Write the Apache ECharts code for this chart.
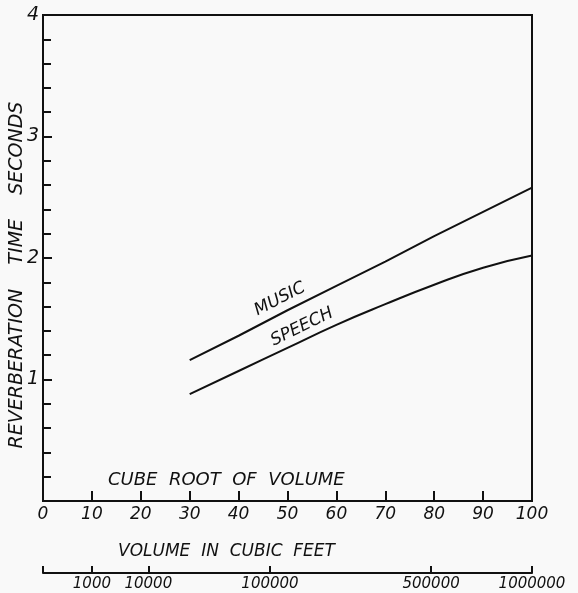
<!DOCTYPE html>
<html>
<head>
<meta charset="utf-8">
<script src="https://cdn.jsdelivr.net/npm/echarts@6/dist/echarts.min.js"></script>
<style>
  html, body { margin: 0; padding: 0; background: #f9f9f9; }
  #chart { width: 578px; height: 593px; }
</style>
</head>
<body>
<div id="chart"></div>
<script>
// cube root of volume (x) and reverberation time in seconds (y)
const cubeRoot = [30, 40, 50, 60, 70, 80, 90, 100];
const music = [1.16, 1.36, 1.57, 1.77, 1.97, 2.18, 2.38, 2.58];
const speech = [0.88, 1.07, 1.26, 1.45, 1.62, 1.78, 1.92, 2.02];
// volume scale shown under the chart
const volumeTicks = [1000, 10000, 100000, 500000, 1000000];

const ink = '#111';
const font = 'DejaVu Sans';

const chart = echarts.init(document.getElementById('chart'));

const volumePos = volumeTicks.map((v) => Math.cbrt(v));
const volumeLabel = (pos) => {
  let best = 0;
  volumePos.forEach((p, i) => {
    if (Math.abs(p - pos) < Math.abs(volumePos[best] - pos)) best = i;
  });
  return String(volumeTicks[best]);
};

const option = {
  backgroundColor: '#f9f9f9',
  animation: false,
  grid: {
    left: 43,
    right: 46,
    top: 15,
    bottom: 92,
    outerBoundsMode: 'none',
    containLabel: false,
    show: true,
    borderColor: ink,
    borderWidth: 2,
    backgroundColor: 'transparent',
  },
  title: [
    {
      text: 'CUBE  ROOT  OF  VOLUME',
      left: 108,
      top: 471,
      padding: 0,
      textStyle: { fontFamily: font, fontStyle: 'italic', fontWeight: 'normal', fontSize: 18, color: ink },
    },
    {
      text: 'VOLUME  IN  CUBIC  FEET',
      left: 118,
      top: 543,
      padding: 0,
      textStyle: { fontFamily: font, fontStyle: 'italic', fontWeight: 'normal', fontSize: 17, color: ink },
    },
  ],
  xAxis: [
    {
      type: 'value',
      min: 0,
      max: 100,
      interval: 10,
      axisLine: { lineStyle: { color: ink, width: 2 } },
      axisTick: { inside: true, length: 10, lineStyle: { color: ink, width: 2 } },
      axisLabel: {
        margin: 5,
        fontFamily: font,
        fontStyle: 'italic',
        fontSize: 17,
        color: ink,
      },
      splitLine: { show: false },
    },
    {
      type: 'value',
      position: 'bottom',
      offset: 72,
      min: 0,
      max: 100,
      axisLine: { lineStyle: { color: ink, width: 2 } },
      axisTick: {
        inside: true,
        length: 7,
        customValues: [0].concat(volumePos),
        lineStyle: { color: ink, width: 2 },
      },
      axisLabel: {
        customValues: volumePos,
        margin: 4,
        fontFamily: font,
        fontStyle: 'italic',
        fontSize: 15,
        color: ink,
        formatter: (v) => volumeLabel(v),
      },
      splitLine: { show: false },
    },
  ],
  yAxis: {
    type: 'value',
    min: 0,
    max: 4,
    interval: 1,
    name: 'REVERBERATION    TIME    SECONDS',
    nameLocation: 'middle',
    nameGap: 16,
    nameMoveOverlap: false,
    nameTextStyle: {
      fontFamily: font,
      fontStyle: 'italic',
      fontSize: 19,
      color: ink,
      padding: [0, 34, 0, 0],
    },
    axisLine: { show: true, lineStyle: { color: ink, width: 2 } },
    axisTick: { show: true, inside: true, length: 9, lineStyle: { color: ink, width: 2 } },
    minorTick: { show: true, splitNumber: 5, length: 8, lineStyle: { color: ink, width: 2 } },
    axisLabel: {
      showMinLabel: false,
      margin: 4,
      fontFamily: font,
      fontStyle: 'italic',
      fontSize: 19,
      color: ink,
    },
    splitLine: { show: false },
  },
  series: [
    {
      name: 'MUSIC',
      type: 'line',
      data: cubeRoot.map((x, i) => [x, music[i]]),
      symbol: 'none',
      lineStyle: { color: ink, width: 2 },
    },
    {
      name: 'SPEECH',
      type: 'line',
      data: cubeRoot.map((x, i) => [x, speech[i]]),
      symbol: 'none',
      smooth: true,
      lineStyle: { color: ink, width: 2 },
    },
  ],
  graphic: [
    {
      type: 'text',
      x: 280,
      y: 299,
      rotation: (27 * Math.PI) / 180,
      style: {
        text: 'MUSIC',
        fontFamily: font,
        fontStyle: 'italic',
        fontSize: 17,
        fill: ink,
        align: 'center',
        verticalAlign: 'middle',
      },
    },
    {
      type: 'text',
      x: 302,
      y: 327,
      rotation: (26 * Math.PI) / 180,
      style: {
        text: 'SPEECH',
        fontFamily: font,
        fontStyle: 'italic',
        fontSize: 17,
        fill: ink,
        align: 'center',
        verticalAlign: 'middle',
      },
    },
  ],
};

chart.setOption(option);
</script>
</body>
</html>
